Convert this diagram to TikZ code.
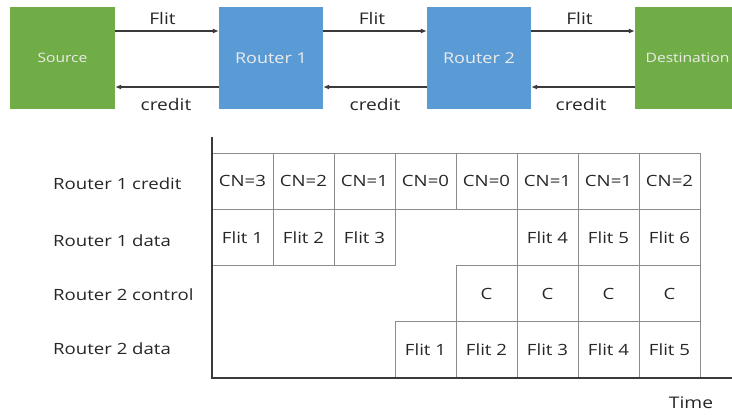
\documentclass[tikz,border=0pt]{standalone}
\usepackage{fontspec}
\setmainfont[FakeStretch=1.2]{Open Sans}
\usetikzlibrary{arrows.meta}
\definecolor{grn}{HTML}{70AD47}
\definecolor{blu}{HTML}{5B9BD5}
\definecolor{gridc}{HTML}{8C8C8C}
\definecolor{axisc}{HTML}{3A3A3A}
\definecolor{txt}{HTML}{262626}
\begin{document}
\begin{tikzpicture}[x=1pt,y=-1pt,
  box/.style={draw=none, minimum height=102pt, inner sep=0pt, text=white!92!black},
  flow/.style={draw=axisc, line width=2pt, -{Latex[length=6pt,width=5pt]}},
  lbl/.style={font=\fontsize{16}{18}\selectfont, text=txt, inner sep=0pt},
  cell/.style={draw=gridc, line width=0.9pt, minimum width=61pt, minimum height=56.25pt, inner sep=0pt, font=\fontsize{15.5}{18}\selectfont, text=txt},
  rowlbl/.style={anchor=west, inner sep=0pt, font=\fontsize{15.5}{18}\selectfont, text=txt},
  axisline/.style={draw=axisc, line width=2pt}]
\useasboundingbox (0,0) rectangle (732,415);
% top boxes
\node[box, fill=grn, minimum width=105pt, font=\fontsize{13}{15}\selectfont] (src) at (62.5,58) {Source};
\node[box, fill=blu, minimum width=104pt, font=\fontsize{15}{17}\selectfont] (r1) at (271,58) {Router 1};
\node[box, fill=blu, minimum width=104pt, font=\fontsize{15}{17}\selectfont] (r2) at (479,58) {Router 2};
\node[box, fill=grn, minimum width=105pt, font=\fontsize{13}{15}\selectfont] (dst) at (687.5,58) {Destination};
\coordinate (fy) at (0,31);
\coordinate (cy) at (0,87);
\draw[flow] (src.east |- fy) -- (r1.west |- fy);
\draw[flow] (r1.east |- fy) -- (r2.west |- fy);
\draw[flow] (r2.east |- fy) -- (dst.west |- fy);
\draw[flow] (r1.west |- cy) -- (src.east |- cy);
\draw[flow] (r2.west |- cy) -- (r1.east |- cy);
\draw[flow] (dst.west |- cy) -- (r2.east |- cy);
\node[lbl] (fl1) at (162.5,18) {Flit};
\node[lbl] (fl2) at (372,18) {Flit};
\node[lbl] (fl3) at (579.5,18) {Flit};
\node[lbl] (cr1) at (166,104) {credit};
\node[lbl] (cr2) at (375,104) {credit};
\node[lbl] (cr3) at (581,104) {credit};
% row labels
\node[rowlbl] (l1) at (53,184) {Router 1 credit};
\node[rowlbl] (l2) at (53,241) {Router 1 data};
\node[rowlbl] (l3) at (53,295) {Router 2 control};
\node[rowlbl] (l4) at (53,349) {Router 2 data};
% cells
\foreach \t [count=\i from 0] in {CN=3,CN=2,CN=1,CN=0,CN=0,CN=1,CN=1,CN=2}
  \node[cell] (a\i) at ({242.5+61*\i},181.1) {\t};
\foreach \t [count=\i from 0] in {Flit 1,Flit 2,Flit 3}
  \node[cell] (b\i) at ({242.5+61*\i},237.4) {\t};
\foreach \t [count=\i from 5] in {Flit 4,Flit 5,Flit 6}
  \node[cell] (b\i) at ({242.5+61*\i},237.4) {\t};
\foreach \i in {4,...,7}
  \node[cell] (c\i) at ({242.5+61*\i},293.6) {C};
\foreach \t [count=\i from 3] in {Flit 1,Flit 2,Flit 3,Flit 4,Flit 5}
  \node[cell] (d\i) at ({242.5+61*\i},349.9) {\t};
% axes
\coordinate (otop) at (212,137);
\coordinate (orig) at (212,378);
\coordinate (xend) at (732,378);
\draw[axisline] (otop) -- (orig) -- (xend);
\node[lbl] (time) at (691,403) {Time};
\end{tikzpicture}
\end{document}
